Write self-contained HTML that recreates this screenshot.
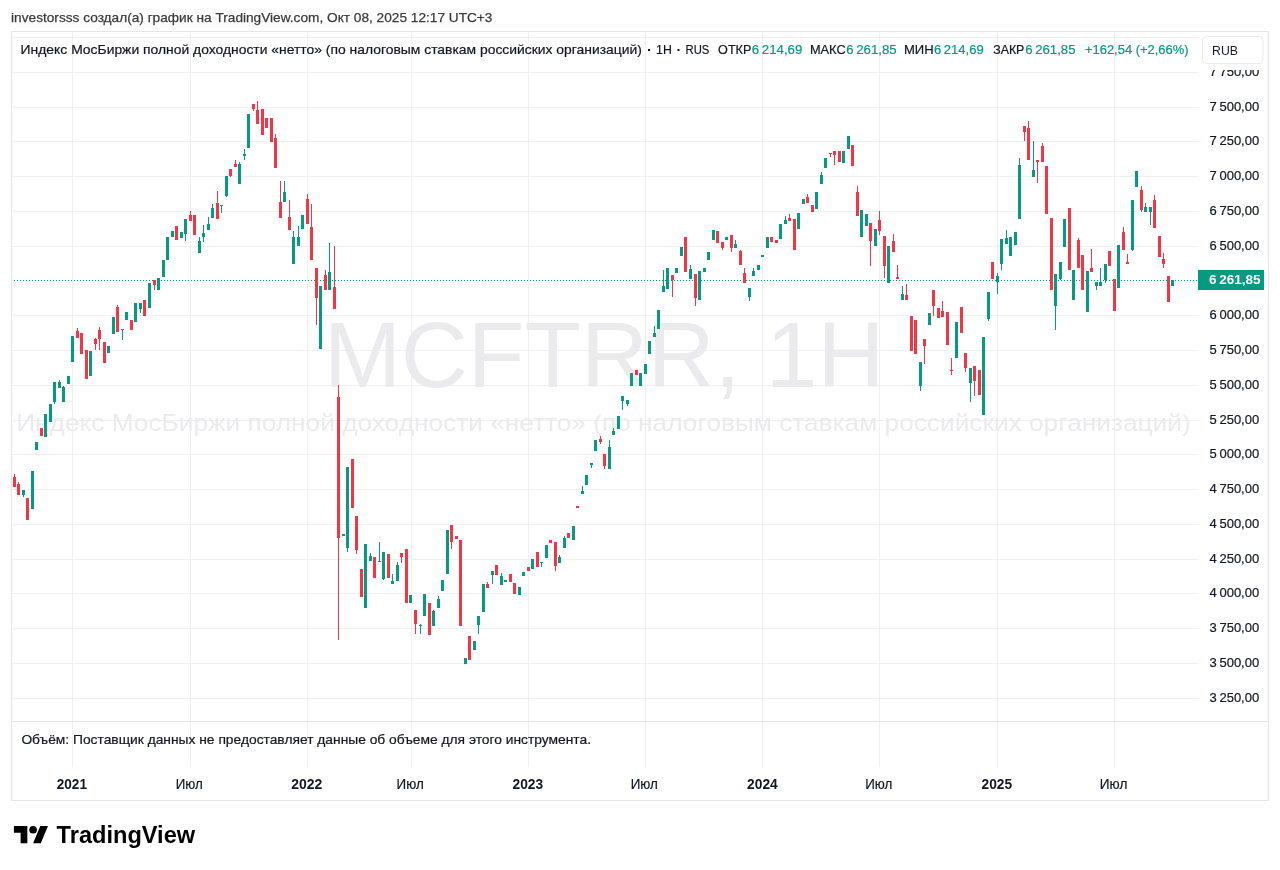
<!DOCTYPE html>
<html><head><meta charset="utf-8"><style>
html,body{margin:0;padding:0;background:#fff;}
body{width:1280px;height:870px;overflow:hidden;font-family:"Liberation Sans", sans-serif;}
svg{display:block;font-family:"Liberation Sans", sans-serif;will-change:transform;}
</style></head><body>
<svg width="1280" height="870" viewBox="0 0 1280 870" shape-rendering="crispEdges">
<rect x="0" y="0" width="1280" height="870" fill="#fff"/>
<rect x="11.5" y="31.5" width="1257" height="769" fill="none" stroke="#e6e6e8" stroke-width="1"/>
<rect x="72" y="32" width="1" height="735" fill="#f0f0f1"/><rect x="190" y="32" width="1" height="735" fill="#f0f0f1"/><rect x="307" y="32" width="1" height="735" fill="#f0f0f1"/><rect x="411" y="32" width="1" height="735" fill="#f0f0f1"/><rect x="528" y="32" width="1" height="735" fill="#f0f0f1"/><rect x="645" y="32" width="1" height="735" fill="#f0f0f1"/><rect x="762" y="32" width="1" height="735" fill="#f0f0f1"/><rect x="879" y="32" width="1" height="735" fill="#f0f0f1"/><rect x="997" y="32" width="1" height="735" fill="#f0f0f1"/><rect x="1114" y="32" width="1" height="735" fill="#f0f0f1"/>
<rect x="12" y="698" width="1187" height="1" fill="#f0f0f1"/><rect x="12" y="663" width="1187" height="1" fill="#f0f0f1"/><rect x="12" y="628" width="1187" height="1" fill="#f0f0f1"/><rect x="12" y="593" width="1187" height="1" fill="#f0f0f1"/><rect x="12" y="559" width="1187" height="1" fill="#f0f0f1"/><rect x="12" y="524" width="1187" height="1" fill="#f0f0f1"/><rect x="12" y="489" width="1187" height="1" fill="#f0f0f1"/><rect x="12" y="454" width="1187" height="1" fill="#f0f0f1"/><rect x="12" y="420" width="1187" height="1" fill="#f0f0f1"/><rect x="12" y="385" width="1187" height="1" fill="#f0f0f1"/><rect x="12" y="350" width="1187" height="1" fill="#f0f0f1"/><rect x="12" y="315" width="1187" height="1" fill="#f0f0f1"/><rect x="12" y="280" width="1187" height="1" fill="#f0f0f1"/><rect x="12" y="246" width="1187" height="1" fill="#f0f0f1"/><rect x="12" y="211" width="1187" height="1" fill="#f0f0f1"/><rect x="12" y="176" width="1187" height="1" fill="#f0f0f1"/><rect x="12" y="141" width="1187" height="1" fill="#f0f0f1"/><rect x="12" y="107" width="1187" height="1" fill="#f0f0f1"/><rect x="12" y="72" width="1187" height="1" fill="#f0f0f1"/><rect x="12" y="37" width="1187" height="1" fill="#f0f0f1"/>
<g shape-rendering="geometricPrecision"><text x="323.93" y="387.3" font-size="93" fill="#ebebee" font-weight="normal" textLength="560.47" lengthAdjust="spacingAndGlyphs">MCFTRR, 1Н</text><text x="16.21" y="431" font-size="24" fill="#ebebee" font-weight="normal" textLength="1174.48" lengthAdjust="spacingAndGlyphs">Индекс МосБиржи полной доходности «нетто» (по налоговым ставкам российских организаций)</text></g>
<rect x="12" y="721" width="1256" height="1" fill="#e2e3e6"/>
<line x1="14" y1="280.5" x2="1198" y2="280.5" stroke="#089981" stroke-width="1" stroke-dasharray="1 2"/>
<rect x="14" y="474" width="1" height="3" fill="#f23645"/>
<rect x="13" y="477" width="3" height="10" fill="#f23645"/>
<rect x="18" y="482" width="1" height="2" fill="#f23645"/>
<rect x="17" y="484" width="3" height="11" fill="#f23645"/>
<rect x="23" y="495" width="1" height="2" fill="#089981"/>
<rect x="22" y="490" width="3" height="5" fill="#089981"/>
<rect x="26" y="498" width="3" height="22" fill="#f23645"/>
<rect x="31" y="471" width="3" height="38" fill="#089981"/>
<rect x="35" y="442" width="3" height="8" fill="#089981"/>
<rect x="40" y="428" width="3" height="8" fill="#f23645"/>
<rect x="44" y="414" width="3" height="23" fill="#089981"/>
<rect x="49" y="404" width="3" height="18" fill="#089981"/>
<rect x="54" y="402" width="1" height="2" fill="#089981"/>
<rect x="53" y="382" width="3" height="20" fill="#089981"/>
<rect x="59" y="380" width="1" height="2" fill="#089981"/>
<rect x="58" y="382" width="3" height="6" fill="#089981"/>
<rect x="63" y="386" width="1" height="1" fill="#089981"/>
<rect x="62" y="387" width="3" height="15" fill="#089981"/>
<rect x="67" y="376" width="3" height="8" fill="#089981"/>
<rect x="71" y="336" width="3" height="26" fill="#089981"/>
<rect x="77" y="328" width="1" height="3" fill="#f23645"/>
<rect x="76" y="331" width="3" height="7" fill="#f23645"/>
<rect x="80" y="333" width="3" height="21" fill="#f23645"/>
<rect x="85" y="350" width="3" height="29" fill="#f23645"/>
<rect x="89" y="351" width="3" height="25" fill="#089981"/>
<rect x="95" y="338" width="1" height="1" fill="#f23645"/>
<rect x="95" y="344" width="1" height="6" fill="#f23645"/>
<rect x="94" y="339" width="3" height="5" fill="#f23645"/>
<rect x="99" y="327" width="1" height="3" fill="#f23645"/>
<rect x="99" y="339" width="1" height="11" fill="#f23645"/>
<rect x="98" y="330" width="3" height="9" fill="#f23645"/>
<rect x="103" y="342" width="3" height="21" fill="#f23645"/>
<rect x="107" y="346" width="3" height="7" fill="#089981"/>
<rect x="112" y="317" width="3" height="17" fill="#089981"/>
<rect x="117" y="305" width="1" height="2" fill="#f23645"/>
<rect x="116" y="307" width="3" height="25" fill="#f23645"/>
<rect x="122" y="330" width="1" height="10" fill="#089981"/>
<rect x="121" y="329" width="3" height="1" fill="#089981"/>
<rect x="125" y="312" width="3" height="8" fill="#089981"/>
<rect x="130" y="320" width="3" height="10" fill="#f23645"/>
<rect x="134" y="303" width="3" height="19" fill="#089981"/>
<rect x="140" y="309" width="1" height="4" fill="#089981"/>
<rect x="139" y="303" width="3" height="6" fill="#089981"/>
<rect x="143" y="300" width="3" height="16" fill="#f23645"/>
<rect x="148" y="283" width="3" height="25" fill="#089981"/>
<rect x="154" y="285" width="1" height="5" fill="#f23645"/>
<rect x="153" y="280" width="3" height="5" fill="#f23645"/>
<rect x="157" y="278" width="3" height="12" fill="#089981"/>
<rect x="162" y="260" width="3" height="17" fill="#089981"/>
<rect x="166" y="237" width="3" height="23" fill="#089981"/>
<rect x="171" y="231" width="3" height="6" fill="#089981"/>
<rect x="175" y="226" width="3" height="14" fill="#f23645"/>
<rect x="180" y="232" width="3" height="6" fill="#089981"/>
<rect x="185" y="234" width="1" height="7" fill="#089981"/>
<rect x="184" y="219" width="3" height="15" fill="#089981"/>
<rect x="190" y="211" width="1" height="4" fill="#f23645"/>
<rect x="189" y="215" width="3" height="6" fill="#f23645"/>
<rect x="193" y="215" width="3" height="20" fill="#f23645"/>
<rect x="199" y="237" width="1" height="4" fill="#089981"/>
<rect x="198" y="241" width="3" height="12" fill="#089981"/>
<rect x="203" y="225" width="1" height="8" fill="#089981"/>
<rect x="203" y="237" width="1" height="5" fill="#089981"/>
<rect x="202" y="233" width="3" height="4" fill="#089981"/>
<rect x="208" y="217" width="1" height="7" fill="#089981"/>
<rect x="207" y="224" width="3" height="6" fill="#089981"/>
<rect x="212" y="204" width="1" height="4" fill="#089981"/>
<rect x="211" y="208" width="3" height="10" fill="#089981"/>
<rect x="217" y="191" width="1" height="12" fill="#f23645"/>
<rect x="216" y="203" width="3" height="16" fill="#f23645"/>
<rect x="221" y="206" width="1" height="7" fill="#089981"/>
<rect x="220" y="205" width="3" height="1" fill="#089981"/>
<rect x="226" y="196" width="1" height="1" fill="#089981"/>
<rect x="225" y="176" width="3" height="20" fill="#089981"/>
<rect x="230" y="176" width="1" height="1" fill="#f23645"/>
<rect x="229" y="169" width="3" height="7" fill="#f23645"/>
<rect x="235" y="160" width="1" height="4" fill="#f23645"/>
<rect x="234" y="164" width="3" height="3" fill="#f23645"/>
<rect x="239" y="162" width="1" height="2" fill="#089981"/>
<rect x="238" y="164" width="3" height="20" fill="#089981"/>
<rect x="244" y="149" width="1" height="5" fill="#089981"/>
<rect x="244" y="156" width="1" height="4" fill="#089981"/>
<rect x="243" y="154" width="3" height="2" fill="#089981"/>
<rect x="247" y="114" width="3" height="34" fill="#089981"/>
<rect x="253" y="109" width="1" height="2" fill="#f23645"/>
<rect x="252" y="104" width="3" height="5" fill="#f23645"/>
<rect x="257" y="101" width="1" height="9" fill="#f23645"/>
<rect x="256" y="110" width="3" height="14" fill="#f23645"/>
<rect x="261" y="109" width="3" height="26" fill="#f23645"/>
<rect x="265" y="118" width="3" height="10" fill="#f23645"/>
<rect x="270" y="118" width="3" height="24" fill="#f23645"/>
<rect x="275" y="134" width="1" height="4" fill="#f23645"/>
<rect x="274" y="138" width="3" height="30" fill="#f23645"/>
<rect x="280" y="181" width="1" height="21" fill="#f23645"/>
<rect x="279" y="202" width="3" height="16" fill="#f23645"/>
<rect x="284" y="181" width="1" height="11" fill="#089981"/>
<rect x="283" y="192" width="3" height="10" fill="#089981"/>
<rect x="289" y="200" width="1" height="17" fill="#f23645"/>
<rect x="288" y="217" width="3" height="13" fill="#f23645"/>
<rect x="293" y="231" width="1" height="6" fill="#089981"/>
<rect x="292" y="237" width="3" height="27" fill="#089981"/>
<rect x="298" y="226" width="1" height="11" fill="#089981"/>
<rect x="297" y="237" width="3" height="9" fill="#089981"/>
<rect x="301" y="215" width="3" height="14" fill="#089981"/>
<rect x="307" y="194" width="1" height="5" fill="#f23645"/>
<rect x="306" y="199" width="3" height="25" fill="#f23645"/>
<rect x="311" y="204" width="1" height="23" fill="#f23645"/>
<rect x="310" y="227" width="3" height="33" fill="#f23645"/>
<rect x="316" y="298" width="1" height="27" fill="#f23645"/>
<rect x="315" y="268" width="3" height="30" fill="#f23645"/>
<rect x="319" y="286" width="3" height="63" fill="#089981"/>
<rect x="325" y="270" width="1" height="5" fill="#f23645"/>
<rect x="324" y="275" width="3" height="15" fill="#f23645"/>
<rect x="329" y="243" width="1" height="29" fill="#089981"/>
<rect x="328" y="272" width="3" height="18" fill="#089981"/>
<rect x="334" y="246" width="1" height="41" fill="#f23645"/>
<rect x="333" y="287" width="3" height="22" fill="#f23645"/>
<rect x="338" y="385" width="1" height="12" fill="#f23645"/>
<rect x="338" y="538" width="1" height="102" fill="#f23645"/>
<rect x="337" y="397" width="3" height="141" fill="#f23645"/>
<rect x="342" y="534" width="3" height="2" fill="#089981"/>
<rect x="347" y="548" width="1" height="4" fill="#089981"/>
<rect x="346" y="467" width="3" height="81" fill="#089981"/>
<rect x="351" y="459" width="3" height="49" fill="#f23645"/>
<rect x="356" y="550" width="1" height="4" fill="#f23645"/>
<rect x="355" y="516" width="3" height="34" fill="#f23645"/>
<rect x="360" y="569" width="3" height="28" fill="#f23645"/>
<rect x="364" y="544" width="3" height="64" fill="#089981"/>
<rect x="370" y="553" width="1" height="3" fill="#089981"/>
<rect x="369" y="556" width="3" height="5" fill="#089981"/>
<rect x="373" y="557" width="3" height="21" fill="#f23645"/>
<rect x="379" y="542" width="1" height="19" fill="#089981"/>
<rect x="378" y="561" width="3" height="1" fill="#089981"/>
<rect x="383" y="579" width="1" height="1" fill="#089981"/>
<rect x="382" y="552" width="3" height="27" fill="#089981"/>
<rect x="387" y="554" width="3" height="24" fill="#f23645"/>
<rect x="392" y="574" width="1" height="7" fill="#089981"/>
<rect x="391" y="581" width="3" height="3" fill="#089981"/>
<rect x="397" y="562" width="1" height="3" fill="#089981"/>
<rect x="396" y="565" width="3" height="16" fill="#089981"/>
<rect x="401" y="557" width="1" height="6" fill="#f23645"/>
<rect x="400" y="553" width="3" height="4" fill="#f23645"/>
<rect x="405" y="549" width="3" height="54" fill="#f23645"/>
<rect x="409" y="595" width="3" height="8" fill="#089981"/>
<rect x="415" y="624" width="1" height="10" fill="#f23645"/>
<rect x="414" y="610" width="3" height="14" fill="#f23645"/>
<rect x="420" y="624" width="1" height="1" fill="#089981"/>
<rect x="420" y="626" width="1" height="8" fill="#089981"/>
<rect x="419" y="625" width="3" height="1" fill="#089981"/>
<rect x="423" y="594" width="3" height="22" fill="#089981"/>
<rect x="428" y="603" width="3" height="32" fill="#f23645"/>
<rect x="433" y="610" width="1" height="1" fill="#089981"/>
<rect x="432" y="611" width="3" height="15" fill="#089981"/>
<rect x="438" y="596" width="1" height="3" fill="#089981"/>
<rect x="437" y="599" width="3" height="9" fill="#089981"/>
<rect x="441" y="580" width="3" height="11" fill="#089981"/>
<rect x="446" y="530" width="3" height="44" fill="#089981"/>
<rect x="451" y="542" width="1" height="7" fill="#f23645"/>
<rect x="450" y="525" width="3" height="17" fill="#f23645"/>
<rect x="455" y="536" width="3" height="3" fill="#f23645"/>
<rect x="459" y="540" width="3" height="86" fill="#f23645"/>
<rect x="464" y="658" width="3" height="6" fill="#089981"/>
<rect x="468" y="636" width="3" height="24" fill="#f23645"/>
<rect x="473" y="641" width="3" height="9" fill="#089981"/>
<rect x="478" y="625" width="1" height="9" fill="#089981"/>
<rect x="477" y="616" width="3" height="9" fill="#089981"/>
<rect x="482" y="584" width="3" height="28" fill="#089981"/>
<rect x="487" y="582" width="1" height="2" fill="#f23645"/>
<rect x="486" y="584" width="3" height="4" fill="#f23645"/>
<rect x="492" y="575" width="1" height="9" fill="#089981"/>
<rect x="491" y="571" width="3" height="4" fill="#089981"/>
<rect x="495" y="565" width="3" height="10" fill="#f23645"/>
<rect x="501" y="573" width="1" height="3" fill="#089981"/>
<rect x="500" y="576" width="3" height="9" fill="#089981"/>
<rect x="504" y="580" width="3" height="2" fill="#089981"/>
<rect x="509" y="574" width="3" height="8" fill="#f23645"/>
<rect x="513" y="583" width="3" height="11" fill="#f23645"/>
<rect x="518" y="587" width="3" height="8" fill="#089981"/>
<rect x="522" y="572" width="3" height="4" fill="#089981"/>
<rect x="527" y="567" width="3" height="4" fill="#f23645"/>
<rect x="531" y="559" width="3" height="10" fill="#089981"/>
<rect x="536" y="552" width="3" height="15" fill="#f23645"/>
<rect x="541" y="563" width="1" height="4" fill="#089981"/>
<rect x="540" y="562" width="3" height="1" fill="#089981"/>
<rect x="545" y="545" width="3" height="13" fill="#089981"/>
<rect x="549" y="540" width="3" height="3" fill="#f23645"/>
<rect x="555" y="566" width="1" height="5" fill="#f23645"/>
<rect x="554" y="542" width="3" height="24" fill="#f23645"/>
<rect x="559" y="555" width="1" height="2" fill="#089981"/>
<rect x="558" y="557" width="3" height="6" fill="#089981"/>
<rect x="564" y="536" width="1" height="2" fill="#089981"/>
<rect x="563" y="538" width="3" height="10" fill="#089981"/>
<rect x="567" y="533" width="3" height="5" fill="#f23645"/>
<rect x="572" y="526" width="3" height="14" fill="#089981"/>
<rect x="576" y="506" width="3" height="2" fill="#f23645"/>
<rect x="582" y="486" width="1" height="5" fill="#089981"/>
<rect x="581" y="491" width="3" height="3" fill="#089981"/>
<rect x="585" y="475" width="3" height="10" fill="#089981"/>
<rect x="591" y="465" width="1" height="3" fill="#089981"/>
<rect x="590" y="463" width="3" height="2" fill="#089981"/>
<rect x="594" y="440" width="3" height="11" fill="#089981"/>
<rect x="600" y="436" width="1" height="3" fill="#f23645"/>
<rect x="600" y="442" width="1" height="2" fill="#f23645"/>
<rect x="599" y="439" width="3" height="3" fill="#f23645"/>
<rect x="604" y="466" width="1" height="3" fill="#f23645"/>
<rect x="603" y="454" width="3" height="12" fill="#f23645"/>
<rect x="609" y="440" width="1" height="7" fill="#089981"/>
<rect x="608" y="447" width="3" height="22" fill="#089981"/>
<rect x="613" y="428" width="1" height="3" fill="#089981"/>
<rect x="612" y="431" width="3" height="4" fill="#089981"/>
<rect x="617" y="416" width="3" height="13" fill="#089981"/>
<rect x="622" y="401" width="1" height="9" fill="#089981"/>
<rect x="621" y="396" width="3" height="5" fill="#089981"/>
<rect x="627" y="404" width="1" height="2" fill="#089981"/>
<rect x="626" y="400" width="3" height="4" fill="#089981"/>
<rect x="630" y="373" width="3" height="13" fill="#089981"/>
<rect x="635" y="370" width="3" height="5" fill="#f23645"/>
<rect x="639" y="373" width="3" height="13" fill="#089981"/>
<rect x="644" y="364" width="3" height="10" fill="#089981"/>
<rect x="648" y="341" width="3" height="13" fill="#089981"/>
<rect x="654" y="326" width="1" height="7" fill="#089981"/>
<rect x="653" y="333" width="3" height="4" fill="#089981"/>
<rect x="657" y="310" width="3" height="19" fill="#089981"/>
<rect x="663" y="270" width="1" height="16" fill="#089981"/>
<rect x="662" y="286" width="3" height="6" fill="#089981"/>
<rect x="666" y="268" width="3" height="21" fill="#089981"/>
<rect x="672" y="280" width="1" height="17" fill="#f23645"/>
<rect x="671" y="275" width="3" height="5" fill="#f23645"/>
<rect x="675" y="268" width="3" height="5" fill="#089981"/>
<rect x="680" y="247" width="3" height="9" fill="#089981"/>
<rect x="684" y="237" width="3" height="35" fill="#f23645"/>
<rect x="690" y="265" width="1" height="4" fill="#089981"/>
<rect x="689" y="269" width="3" height="10" fill="#089981"/>
<rect x="695" y="298" width="1" height="8" fill="#f23645"/>
<rect x="694" y="274" width="3" height="24" fill="#f23645"/>
<rect x="698" y="271" width="3" height="29" fill="#089981"/>
<rect x="703" y="268" width="3" height="4" fill="#089981"/>
<rect x="707" y="252" width="3" height="8" fill="#089981"/>
<rect x="712" y="230" width="3" height="10" fill="#089981"/>
<rect x="716" y="231" width="3" height="12" fill="#f23645"/>
<rect x="722" y="248" width="1" height="2" fill="#f23645"/>
<rect x="721" y="242" width="3" height="6" fill="#f23645"/>
<rect x="725" y="237" width="3" height="3" fill="#089981"/>
<rect x="731" y="248" width="1" height="4" fill="#f23645"/>
<rect x="730" y="235" width="3" height="13" fill="#f23645"/>
<rect x="735" y="240" width="1" height="4" fill="#089981"/>
<rect x="734" y="244" width="3" height="4" fill="#089981"/>
<rect x="740" y="250" width="1" height="1" fill="#f23645"/>
<rect x="739" y="251" width="3" height="14" fill="#f23645"/>
<rect x="744" y="268" width="1" height="5" fill="#f23645"/>
<rect x="743" y="273" width="3" height="10" fill="#f23645"/>
<rect x="749" y="297" width="1" height="4" fill="#089981"/>
<rect x="748" y="288" width="3" height="9" fill="#089981"/>
<rect x="753" y="268" width="1" height="3" fill="#089981"/>
<rect x="752" y="271" width="3" height="5" fill="#089981"/>
<rect x="757" y="265" width="3" height="5" fill="#089981"/>
<rect x="761" y="255" width="3" height="2" fill="#089981"/>
<rect x="766" y="237" width="3" height="11" fill="#089981"/>
<rect x="770" y="237" width="3" height="5" fill="#f23645"/>
<rect x="775" y="240" width="3" height="3" fill="#f23645"/>
<rect x="779" y="224" width="3" height="15" fill="#089981"/>
<rect x="785" y="216" width="1" height="4" fill="#089981"/>
<rect x="784" y="220" width="3" height="4" fill="#089981"/>
<rect x="789" y="214" width="1" height="4" fill="#f23645"/>
<rect x="788" y="218" width="3" height="3" fill="#f23645"/>
<rect x="793" y="219" width="3" height="31" fill="#f23645"/>
<rect x="797" y="213" width="3" height="16" fill="#089981"/>
<rect x="802" y="199" width="3" height="5" fill="#089981"/>
<rect x="807" y="194" width="1" height="3" fill="#f23645"/>
<rect x="806" y="197" width="3" height="6" fill="#f23645"/>
<rect x="811" y="205" width="3" height="7" fill="#f23645"/>
<rect x="815" y="192" width="3" height="17" fill="#089981"/>
<rect x="821" y="172" width="1" height="3" fill="#089981"/>
<rect x="820" y="175" width="3" height="9" fill="#089981"/>
<rect x="824" y="158" width="3" height="10" fill="#089981"/>
<rect x="830" y="154" width="1" height="3" fill="#f23645"/>
<rect x="829" y="153" width="3" height="1" fill="#f23645"/>
<rect x="834" y="155" width="1" height="10" fill="#f23645"/>
<rect x="833" y="151" width="3" height="4" fill="#f23645"/>
<rect x="838" y="151" width="3" height="11" fill="#f23645"/>
<rect x="842" y="151" width="3" height="12" fill="#089981"/>
<rect x="847" y="136" width="3" height="13" fill="#089981"/>
<rect x="851" y="145" width="3" height="21" fill="#f23645"/>
<rect x="857" y="186" width="1" height="6" fill="#f23645"/>
<rect x="856" y="192" width="3" height="24" fill="#f23645"/>
<rect x="860" y="210" width="3" height="27" fill="#089981"/>
<rect x="865" y="214" width="3" height="12" fill="#089981"/>
<rect x="870" y="241" width="1" height="25" fill="#f23645"/>
<rect x="869" y="223" width="3" height="18" fill="#f23645"/>
<rect x="874" y="229" width="3" height="17" fill="#089981"/>
<rect x="879" y="211" width="1" height="9" fill="#f23645"/>
<rect x="879" y="231" width="1" height="4" fill="#f23645"/>
<rect x="878" y="220" width="3" height="11" fill="#f23645"/>
<rect x="884" y="266" width="1" height="12" fill="#f23645"/>
<rect x="883" y="236" width="3" height="30" fill="#f23645"/>
<rect x="887" y="246" width="3" height="37" fill="#089981"/>
<rect x="893" y="234" width="1" height="7" fill="#f23645"/>
<rect x="892" y="241" width="3" height="11" fill="#f23645"/>
<rect x="897" y="265" width="1" height="12" fill="#f23645"/>
<rect x="896" y="277" width="3" height="2" fill="#f23645"/>
<rect x="902" y="286" width="1" height="8" fill="#089981"/>
<rect x="901" y="294" width="3" height="6" fill="#089981"/>
<rect x="906" y="284" width="1" height="11" fill="#f23645"/>
<rect x="905" y="295" width="3" height="5" fill="#f23645"/>
<rect x="910" y="316" width="3" height="35" fill="#f23645"/>
<rect x="914" y="320" width="3" height="34" fill="#f23645"/>
<rect x="920" y="386" width="1" height="5" fill="#089981"/>
<rect x="919" y="362" width="3" height="24" fill="#089981"/>
<rect x="924" y="346" width="1" height="18" fill="#f23645"/>
<rect x="923" y="339" width="3" height="7" fill="#f23645"/>
<rect x="928" y="313" width="3" height="12" fill="#089981"/>
<rect x="933" y="306" width="1" height="10" fill="#f23645"/>
<rect x="932" y="290" width="3" height="16" fill="#f23645"/>
<rect x="937" y="308" width="3" height="10" fill="#f23645"/>
<rect x="942" y="301" width="1" height="10" fill="#f23645"/>
<rect x="941" y="311" width="3" height="6" fill="#f23645"/>
<rect x="946" y="312" width="3" height="33" fill="#f23645"/>
<rect x="951" y="358" width="1" height="12" fill="#f23645"/>
<rect x="951" y="371" width="1" height="4" fill="#f23645"/>
<rect x="950" y="370" width="3" height="1" fill="#f23645"/>
<rect x="955" y="322" width="3" height="36" fill="#089981"/>
<rect x="960" y="307" width="3" height="26" fill="#f23645"/>
<rect x="965" y="368" width="1" height="4" fill="#f23645"/>
<rect x="964" y="353" width="3" height="15" fill="#f23645"/>
<rect x="970" y="383" width="1" height="19" fill="#089981"/>
<rect x="969" y="368" width="3" height="15" fill="#089981"/>
<rect x="974" y="381" width="1" height="15" fill="#f23645"/>
<rect x="973" y="366" width="3" height="15" fill="#f23645"/>
<rect x="978" y="370" width="3" height="25" fill="#f23645"/>
<rect x="982" y="337" width="3" height="78" fill="#089981"/>
<rect x="988" y="319" width="1" height="2" fill="#089981"/>
<rect x="987" y="292" width="3" height="27" fill="#089981"/>
<rect x="991" y="262" width="3" height="17" fill="#f23645"/>
<rect x="997" y="273" width="1" height="3" fill="#089981"/>
<rect x="997" y="282" width="1" height="12" fill="#089981"/>
<rect x="996" y="276" width="3" height="6" fill="#089981"/>
<rect x="1001" y="264" width="1" height="6" fill="#089981"/>
<rect x="1000" y="239" width="3" height="25" fill="#089981"/>
<rect x="1006" y="230" width="1" height="8" fill="#089981"/>
<rect x="1005" y="238" width="3" height="6" fill="#089981"/>
<rect x="1009" y="237" width="3" height="19" fill="#089981"/>
<rect x="1014" y="232" width="3" height="13" fill="#089981"/>
<rect x="1019" y="158" width="1" height="7" fill="#089981"/>
<rect x="1018" y="165" width="3" height="54" fill="#089981"/>
<rect x="1024" y="132" width="1" height="9" fill="#f23645"/>
<rect x="1023" y="126" width="3" height="6" fill="#f23645"/>
<rect x="1028" y="121" width="1" height="7" fill="#f23645"/>
<rect x="1027" y="128" width="3" height="32" fill="#f23645"/>
<rect x="1033" y="141" width="1" height="29" fill="#089981"/>
<rect x="1032" y="170" width="3" height="7" fill="#089981"/>
<rect x="1037" y="162" width="1" height="21" fill="#f23645"/>
<rect x="1036" y="160" width="3" height="2" fill="#f23645"/>
<rect x="1042" y="143" width="1" height="3" fill="#f23645"/>
<rect x="1041" y="146" width="3" height="16" fill="#f23645"/>
<rect x="1045" y="166" width="3" height="48" fill="#f23645"/>
<rect x="1050" y="218" width="3" height="72" fill="#f23645"/>
<rect x="1055" y="306" width="1" height="24" fill="#089981"/>
<rect x="1054" y="274" width="3" height="32" fill="#089981"/>
<rect x="1060" y="279" width="1" height="1" fill="#089981"/>
<rect x="1059" y="262" width="3" height="17" fill="#089981"/>
<rect x="1063" y="219" width="3" height="28" fill="#089981"/>
<rect x="1068" y="208" width="3" height="62" fill="#f23645"/>
<rect x="1072" y="270" width="3" height="30" fill="#089981"/>
<rect x="1078" y="238" width="1" height="2" fill="#f23645"/>
<rect x="1077" y="240" width="3" height="28" fill="#f23645"/>
<rect x="1081" y="255" width="3" height="35" fill="#f23645"/>
<rect x="1086" y="271" width="3" height="41" fill="#089981"/>
<rect x="1091" y="249" width="1" height="19" fill="#f23645"/>
<rect x="1090" y="268" width="3" height="4" fill="#f23645"/>
<rect x="1096" y="286" width="1" height="4" fill="#089981"/>
<rect x="1095" y="282" width="3" height="4" fill="#089981"/>
<rect x="1100" y="268" width="1" height="14" fill="#089981"/>
<rect x="1099" y="282" width="3" height="4" fill="#089981"/>
<rect x="1105" y="280" width="1" height="3" fill="#089981"/>
<rect x="1104" y="264" width="3" height="16" fill="#089981"/>
<rect x="1108" y="251" width="3" height="15" fill="#f23645"/>
<rect x="1113" y="279" width="3" height="32" fill="#f23645"/>
<rect x="1117" y="245" width="3" height="43" fill="#089981"/>
<rect x="1123" y="227" width="1" height="5" fill="#f23645"/>
<rect x="1122" y="232" width="3" height="18" fill="#f23645"/>
<rect x="1127" y="254" width="1" height="8" fill="#f23645"/>
<rect x="1126" y="262" width="3" height="2" fill="#f23645"/>
<rect x="1132" y="250" width="1" height="1" fill="#089981"/>
<rect x="1131" y="200" width="3" height="50" fill="#089981"/>
<rect x="1135" y="171" width="3" height="16" fill="#089981"/>
<rect x="1141" y="186" width="1" height="4" fill="#f23645"/>
<rect x="1141" y="210" width="1" height="2" fill="#f23645"/>
<rect x="1140" y="190" width="3" height="20" fill="#f23645"/>
<rect x="1145" y="203" width="1" height="4" fill="#089981"/>
<rect x="1144" y="207" width="3" height="5" fill="#089981"/>
<rect x="1150" y="212" width="1" height="13" fill="#089981"/>
<rect x="1149" y="207" width="3" height="5" fill="#089981"/>
<rect x="1154" y="195" width="1" height="5" fill="#f23645"/>
<rect x="1153" y="200" width="3" height="28" fill="#f23645"/>
<rect x="1158" y="236" width="3" height="21" fill="#f23645"/>
<rect x="1163" y="253" width="1" height="6" fill="#f23645"/>
<rect x="1163" y="264" width="1" height="4" fill="#f23645"/>
<rect x="1162" y="259" width="3" height="5" fill="#f23645"/>
<rect x="1167" y="276" width="3" height="26" fill="#f23645"/>
<rect x="1171" y="280" width="3" height="6" fill="#089981"/>
<g shape-rendering="geometricPrecision">
<text x="11.09" y="21.9" font-size="13.5" fill="#3a3a3a" font-weight="normal" textLength="481.38" lengthAdjust="spacingAndGlyphs" stroke="#3a3a3a" stroke-width="0.25">investorsss создал(а) график на TradingView.com, Окт 08, 2025 12:17 UTC+3</text><text x="20.63" y="53.8" font-size="13" fill="#131722" font-weight="normal" textLength="621.27" lengthAdjust="spacingAndGlyphs" stroke="#131722" stroke-width="0.2">Индекс МосБиржи полной доходности «нетто» (по налоговым ставкам российских организаций)</text><rect x="648" y="49" width="2" height="2" fill="#131722"/><rect x="677.5" y="49" width="2" height="2" fill="#131722"/><text x="656.05" y="53.8" font-size="13" fill="#131722" font-weight="normal" textLength="15.74" lengthAdjust="spacingAndGlyphs" stroke="#131722" stroke-width="0.2">1Н</text><text x="685.53" y="53.8" font-size="13" fill="#131722" font-weight="normal" textLength="23.76" lengthAdjust="spacingAndGlyphs" stroke="#131722" stroke-width="0.2">RUS</text><text x="718.10" y="53.8" font-size="13" fill="#131722" font-weight="normal" textLength="33.29" lengthAdjust="spacingAndGlyphs" stroke="#131722" stroke-width="0.2">ОТКР</text><text x="751.80" y="53.8" font-size="13" fill="#089981" font-weight="normal" textLength="50.52" lengthAdjust="spacingAndGlyphs" stroke="#089981" stroke-width="0.2">6 214,69</text><text x="809.92" y="53.8" font-size="13" fill="#131722" font-weight="normal" textLength="35.71" lengthAdjust="spacingAndGlyphs" stroke="#131722" stroke-width="0.2">МАКС</text><text x="846.30" y="53.8" font-size="13" fill="#089981" font-weight="normal" textLength="50.32" lengthAdjust="spacingAndGlyphs" stroke="#089981" stroke-width="0.2">6 261,85</text><text x="904.00" y="53.8" font-size="13" fill="#131722" font-weight="normal" textLength="29.67" lengthAdjust="spacingAndGlyphs" stroke="#131722" stroke-width="0.2">МИН</text><text x="934.00" y="53.8" font-size="13" fill="#089981" font-weight="normal" textLength="49.71" lengthAdjust="spacingAndGlyphs" stroke="#089981" stroke-width="0.2">6 214,69</text><text x="993.20" y="53.8" font-size="13" fill="#131722" font-weight="normal" textLength="31.14" lengthAdjust="spacingAndGlyphs" stroke="#131722" stroke-width="0.2">ЗАКР</text><text x="1025.20" y="53.8" font-size="13" fill="#089981" font-weight="normal" textLength="50.32" lengthAdjust="spacingAndGlyphs" stroke="#089981" stroke-width="0.2">6 261,85</text><text x="1085.00" y="53.8" font-size="13" fill="#089981" font-weight="normal" textLength="103.48" lengthAdjust="spacingAndGlyphs" stroke="#089981" stroke-width="0.2">+162,54 (+2,66%)</text><text x="1209.60" y="702.4" font-size="13" fill="#131722" font-weight="normal" stroke="#131722" stroke-width="0.2">3 250,00</text><text x="1209.60" y="667.4" font-size="13" fill="#131722" font-weight="normal" stroke="#131722" stroke-width="0.2">3 500,00</text><text x="1209.60" y="632.4" font-size="13" fill="#131722" font-weight="normal" stroke="#131722" stroke-width="0.2">3 750,00</text><text x="1209.60" y="597.4" font-size="13" fill="#131722" font-weight="normal" stroke="#131722" stroke-width="0.2">4 000,00</text><text x="1209.60" y="563.4" font-size="13" fill="#131722" font-weight="normal" stroke="#131722" stroke-width="0.2">4 250,00</text><text x="1209.60" y="528.4" font-size="13" fill="#131722" font-weight="normal" stroke="#131722" stroke-width="0.2">4 500,00</text><text x="1209.60" y="493.4" font-size="13" fill="#131722" font-weight="normal" stroke="#131722" stroke-width="0.2">4 750,00</text><text x="1209.60" y="458.4" font-size="13" fill="#131722" font-weight="normal" stroke="#131722" stroke-width="0.2">5 000,00</text><text x="1209.60" y="424.4" font-size="13" fill="#131722" font-weight="normal" stroke="#131722" stroke-width="0.2">5 250,00</text><text x="1209.60" y="389.4" font-size="13" fill="#131722" font-weight="normal" stroke="#131722" stroke-width="0.2">5 500,00</text><text x="1209.60" y="354.4" font-size="13" fill="#131722" font-weight="normal" stroke="#131722" stroke-width="0.2">5 750,00</text><text x="1209.60" y="319.4" font-size="13" fill="#131722" font-weight="normal" stroke="#131722" stroke-width="0.2">6 000,00</text><text x="1209.60" y="284.4" font-size="13" fill="#131722" font-weight="normal" stroke="#131722" stroke-width="0.2">6 250,00</text><text x="1209.60" y="250.4" font-size="13" fill="#131722" font-weight="normal" stroke="#131722" stroke-width="0.2">6 500,00</text><text x="1209.60" y="215.4" font-size="13" fill="#131722" font-weight="normal" stroke="#131722" stroke-width="0.2">6 750,00</text><text x="1209.60" y="180.4" font-size="13" fill="#131722" font-weight="normal" stroke="#131722" stroke-width="0.2">7 000,00</text><text x="1209.60" y="145.4" font-size="13" fill="#131722" font-weight="normal" stroke="#131722" stroke-width="0.2">7 250,00</text><text x="1209.60" y="111.4" font-size="13" fill="#131722" font-weight="normal" stroke="#131722" stroke-width="0.2">7 500,00</text><text x="1209.60" y="76.4" font-size="13" fill="#131722" font-weight="normal" stroke="#131722" stroke-width="0.2">7 750,00</text><text x="56.80" y="789.1" font-size="14" fill="#131722" font-weight="bold" textLength="30.15" lengthAdjust="spacingAndGlyphs">2021</text><text x="175.65" y="789.1" font-size="14" fill="#131722" font-weight="normal" textLength="27.07" lengthAdjust="spacingAndGlyphs" stroke="#131722" stroke-width="0.2">Июл</text><text x="291.30" y="789.1" font-size="14" fill="#131722" font-weight="bold" textLength="31.06" lengthAdjust="spacingAndGlyphs">2022</text><text x="396.54" y="789.1" font-size="14" fill="#131722" font-weight="normal" textLength="27.17" lengthAdjust="spacingAndGlyphs" stroke="#131722" stroke-width="0.2">Июл</text><text x="512.50" y="789.1" font-size="14" fill="#131722" font-weight="bold" textLength="30.65" lengthAdjust="spacingAndGlyphs">2023</text><text x="630.64" y="789.1" font-size="14" fill="#131722" font-weight="normal" textLength="27.17" lengthAdjust="spacingAndGlyphs" stroke="#131722" stroke-width="0.2">Июл</text><text x="747.10" y="789.1" font-size="14" fill="#131722" font-weight="bold" textLength="30.65" lengthAdjust="spacingAndGlyphs">2024</text><text x="865.24" y="789.1" font-size="14" fill="#131722" font-weight="normal" textLength="27.17" lengthAdjust="spacingAndGlyphs" stroke="#131722" stroke-width="0.2">Июл</text><text x="981.50" y="789.1" font-size="14" fill="#131722" font-weight="bold" textLength="30.55" lengthAdjust="spacingAndGlyphs">2025</text><text x="1099.83" y="789.1" font-size="14" fill="#131722" font-weight="normal" textLength="27.49" lengthAdjust="spacingAndGlyphs" stroke="#131722" stroke-width="0.2">Июл</text><text x="21.40" y="743.7" font-size="13" fill="#131722" font-weight="normal" textLength="569.63" lengthAdjust="spacingAndGlyphs" stroke="#131722" stroke-width="0.2">Объём: Поставщик данных не предоставляет данные об объеме для этого инструмента.</text>
<rect x="1199" y="32" width="69" height="38" fill="#fff"/>
<rect x="1202.5" y="36.5" width="60.5" height="27" rx="4" fill="#fff" stroke="#e9eaed"/>
<text x="1212.06" y="55.4" font-size="13" fill="#131722" font-weight="normal" textLength="25.87" lengthAdjust="spacingAndGlyphs">RUB</text>
<rect x="1198" y="270" width="66" height="20" fill="#089981"/>
<text x="1209.00" y="284.4" font-size="13" fill="#fff" font-weight="bold" textLength="51.63" lengthAdjust="spacingAndGlyphs">6 261,85</text>
<g transform="translate(13.9,822.1) scale(0.96)" fill="#000"><path d="M14 22H7V11H0V4h14v18zM28 22h-8l7.5-18h8L28 22z"/><circle cx="20" cy="8" r="4"/></g>
<text x="56.60" y="843.3" font-size="24" fill="#000" font-weight="bold" textLength="138.54" lengthAdjust="spacingAndGlyphs">TradingView</text>
</g>
</svg>
</body></html>
